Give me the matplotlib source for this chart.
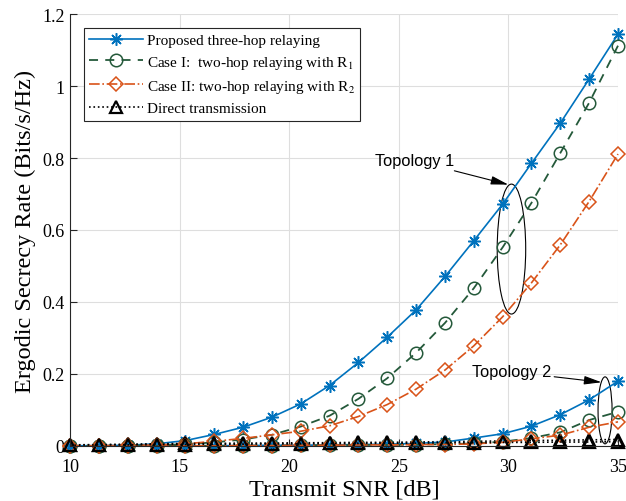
import numpy as np
from matplotlib import pyplot as plt
from matplotlib.patches import Ellipse
from matplotlib.ticker import FormatStrFormatter

plt.rcParams['font.family'] = ['Liberation Serif', 'DejaVu Serif']
plt.rcParams['mathtext.fontset'] = 'stix'

# transmit SNR grid (dB)
snr_db = [10, 11.32, 12.63, 13.95, 15.26, 16.58, 17.89, 19.21, 20.53, 21.84,
          23.16, 24.47, 25.79, 27.11, 28.42, 29.74, 31.05, 32.37, 33.68, 35]

# Topology 1
t1_proposed = [0.0005, 0.001, 0.002, 0.006, 0.015, 0.032, 0.052, 0.080, 0.117, 0.168,
               0.232, 0.302, 0.378, 0.471, 0.570, 0.672, 0.785, 0.897, 1.019, 1.144]
t1_case1 = [0.0002, 0.0005, 0.001, 0.002, 0.005, 0.010, 0.018, 0.031, 0.054, 0.084,
            0.131, 0.188, 0.259, 0.342, 0.438, 0.552, 0.675, 0.814, 0.953, 1.112]
t1_case2 = [0.0003, 0.0007, 0.0015, 0.003, 0.006, 0.013, 0.021, 0.031, 0.041, 0.056,
            0.082, 0.115, 0.158, 0.211, 0.278, 0.359, 0.453, 0.559, 0.679, 0.811]
t1_direct = [0.003, 0.004, 0.005, 0.006, 0.007, 0.007, 0.008, 0.008, 0.009, 0.009,
             0.010, 0.010, 0.011, 0.012, 0.013, 0.014, 0.015, 0.016, 0.017, 0.018]

# Topology 2
t2_proposed = [0.0, 0.0, 0.0, 0.0002, 0.0005, 0.001, 0.001, 0.002, 0.002, 0.003,
               0.004, 0.005, 0.007, 0.011, 0.022, 0.034, 0.055, 0.087, 0.128, 0.180]
t2_case1 = [0.0, 0.0, 0.0, 0.0, 0.0002, 0.0005, 0.001, 0.001, 0.002, 0.002,
            0.003, 0.003, 0.004, 0.005, 0.007, 0.012, 0.022, 0.038, 0.072, 0.095]
t2_case2 = [0.0, 0.0, 0.0, 0.0, 0.0003, 0.0006, 0.001, 0.001, 0.002, 0.002,
            0.003, 0.003, 0.004, 0.004, 0.006, 0.010, 0.020, 0.030, 0.052, 0.067]
t2_direct = [0.002, 0.003, 0.003, 0.004, 0.004, 0.005, 0.005, 0.006, 0.006, 0.007,
             0.007, 0.008, 0.008, 0.009, 0.009, 0.010, 0.010, 0.011, 0.011, 0.012]

labels = ['Proposed three-hop relaying',
          'Case I:  two-hop relaying with R$_1$',
          'Case II: two-hop relaying with R$_2$',
          'Direct transmission']

blue = '#0072BD'
green = '#24593A'
orange = '#D95319'

fig = plt.figure(figsize=(6.26, 5.02), dpi=100)
ax = fig.add_axes([0.1118, 0.1096, 0.8754, 0.8605])

def draw(vals, style, lab=None):
    ax.plot(snr_db, vals, label=lab, clip_on=False, **style)

st_prop = dict(color=blue, ls='-', lw=1.2, marker=(8, 2, 0), ms=9, mew=1.1)
st_c1 = dict(color=green, ls=(0, (5, 4)), lw=1.3, marker='o', ms=9, mfc='none', mew=1.1)
st_c2 = dict(color=orange, ls='-.', lw=1.2, marker='D', ms=7, mfc='none', mew=1.1)
st_dir = dict(color='black', ls=':', lw=1.2, marker='^', ms=9, mfc='none', mew=1.6)

draw(t1_proposed, st_prop, labels[0])
draw(t1_case1, st_c1, labels[1])
draw(t1_case2, st_c2, labels[2])
draw(t1_direct, st_dir, labels[3])
draw(t2_proposed, st_prop)
draw(t2_case1, st_c1)
draw(t2_case2, st_c2)
draw(t2_direct, st_dir)

ax.set_xlim(10, 35)
ax.set_ylim(0, 1.2)
ax.set_xticks([10, 15, 20, 25, 30, 35])
ax.set_yticks([0, 0.2, 0.4, 0.6, 0.8, 1.0, 1.2])
ax.yaxis.set_major_formatter(FormatStrFormatter('%g'))
ax.grid(True, color='#DEDEDE', lw=0.8)
ax.set_axisbelow(True)
ax.spines['top'].set_visible(False)
ax.spines['right'].set_visible(False)
for s in ['left', 'bottom']:
    ax.spines[s].set_color('#262626')
    ax.spines[s].set_linewidth(0.8)
ax.tick_params(direction='in', length=5, width=0.8, color='#262626', labelsize=13)
ax.tick_params(axis='x', pad=9)
ax.tick_params(axis='y', pad=4)

ax.set_xlabel('Transmit SNR [dB]', fontsize=17.5, labelpad=2)
ax.set_ylabel('Ergodic Secrecy Rate (Bits/s/Hz)', fontsize=17.5, labelpad=4)

leg = ax.legend(loc='upper left', bbox_to_anchor=(0.0255, 0.968), borderaxespad=0,
                fontsize=11, handlelength=3.5, handletextpad=0.25, fancybox=False,
                framealpha=1, edgecolor='#262626', labelspacing=0.45, borderpad=0.35)
leg.get_frame().set_linewidth(0.8)

# annotations
sans = ['Liberation Sans', 'DejaVu Sans']
arrow = dict(arrowstyle='-|>,head_length=0.9,head_width=0.22',
             color='black', lw=0.8, shrinkA=0, shrinkB=0)
ax.add_patch(Ellipse((30.14, 0.547), 1.30, 0.361, fill=False, ec='black', lw=0.8))
ax.annotate('Topology 1', xy=(30.0, 0.726), xytext=(23.9, 0.793),
            fontsize=11.8, family=sans, va='center', ha='left', arrowprops=arrow)
ax.add_patch(Ellipse((34.41, 0.099), 0.64, 0.186, fill=False, ec='black', lw=0.8))
ax.annotate('Topology 2', xy=(34.25, 0.177), xytext=(28.34, 0.206),
            fontsize=11.8, family=sans, va='center', ha='left', arrowprops=arrow)

fig.savefig('out.png', dpi=100)
